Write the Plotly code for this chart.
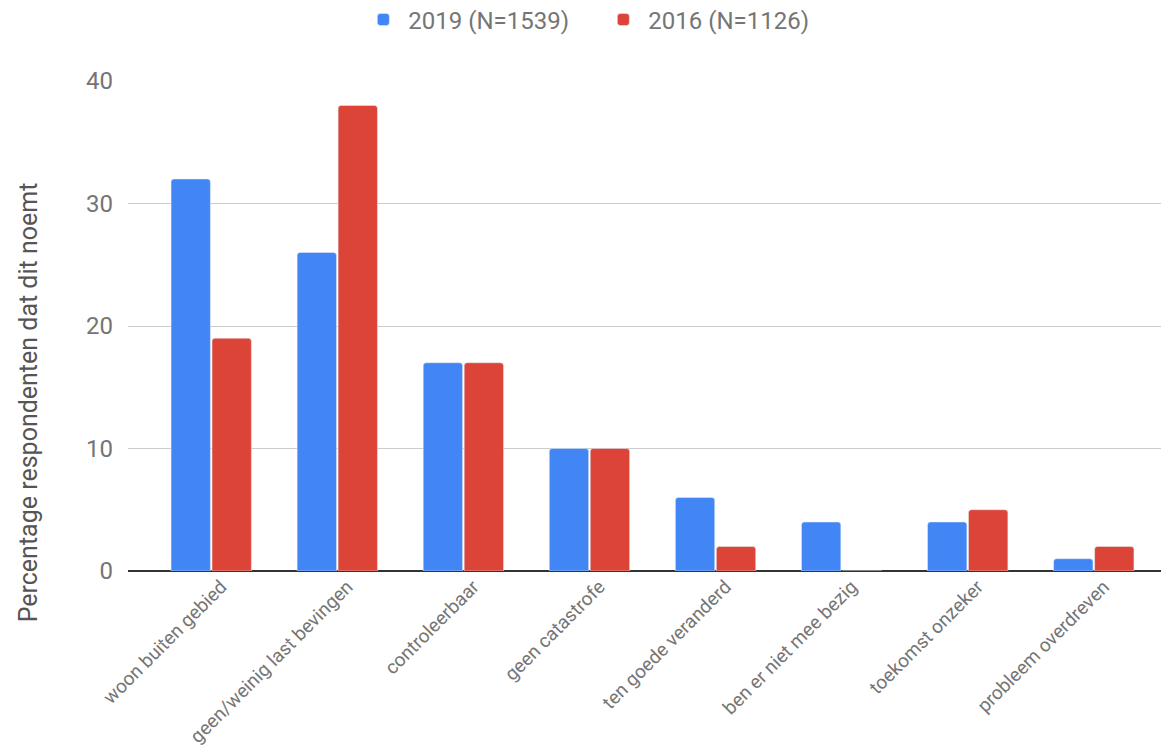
import plotly.graph_objects as go

categories = ["woon buiten gebied", "geen/weinig last bevingen", "controleerbaar",
              "geen catastrofe", "ten goede veranderd", "ben er niet mee bezig",
              "toekomst onzeker", "probleem overdreven"]
values_2019 = [32, 26, 17, 10, 6, 4, 4, 1]
values_2016 = [19, 38, 17, 10, 2, 0, 5, 2]
name_2019 = "2019 (N=1539)"
name_2016 = "2016 (N=1126)"
y_ticks = [0, 10, 20, 30, 40]
y_title = "Percentage respondenten dat dit noemt"

FONT = "Roboto, Arial, sans-serif"
fig = go.Figure()
fig.add_trace(go.Bar(x=categories, y=values_2019, name=name_2019, marker_color="#4285F4"))
fig.add_trace(go.Bar(x=categories, y=values_2016, name=name_2016, marker_color="#DB4437"))

fig.update_layout(
    width=1169, height=746,
    margin=dict(l=120, r=0, t=73, b=183, autoexpand=False),
    paper_bgcolor="white", plot_bgcolor="white",
    barmode="group", bargap=0.35, bargroupgap=0.04, barcornerradius=3,
    font=dict(family=FONT, color="#757575"),
    showlegend=True,
    legend=dict(orientation="h", xref="container", x=0.505, xanchor="center",
                yref="container", y=0.984, yanchor="middle",
                font=dict(size=24, color="#757575"), itemwidth=40,
                entrywidth=185, entrywidthmode="pixels"),
    xaxis=dict(range=[-0.66, 7.66], tickangle=-45, tickfont=dict(size=19, color="#757575"),
               ticklabelshift=10,
               showgrid=False, ticks="", showline=False, automargin=False),
    yaxis=dict(range=[0, 40], tickvals=y_ticks, tickfont=dict(size=24, color="#757575"),
               showgrid=True, gridcolor="#cccccc", gridwidth=1,
               zeroline=True, zerolinecolor="#333333", zerolinewidth=2,
               ticklabelstandoff=14, showline=False, automargin=False),
    annotations=[dict(text=y_title, xref="paper", yref="paper", x=-0.094, y=0.345,
                      xanchor="center", yanchor="middle", textangle=-90, showarrow=False,
                      font=dict(size=25, color="#555555", family=FONT))],
)
fig.write_html("out.html")
